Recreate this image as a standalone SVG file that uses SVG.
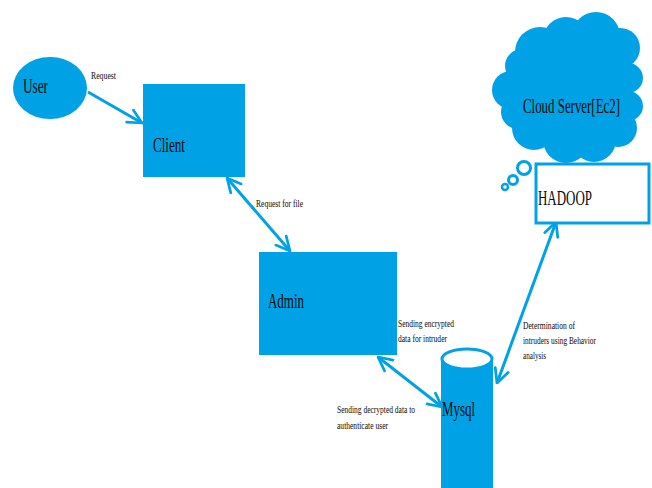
<svg xmlns="http://www.w3.org/2000/svg" width="652" height="488" viewBox="0 0 652 488">
<defs>
<style>
.fill{fill:#00A2E5;}
.lbl{font-family:"Liberation Serif","Times New Roman",serif;fill:#0a0a0a;}
.big{font-size:22px;}
.small{font-size:10px;}
.conn{stroke:#00A2E5;stroke-width:3;fill:none;}
</style>
<marker id="ah" viewBox="0 0 12 12" refX="11" refY="6" markerWidth="5.5" markerHeight="5.5" orient="auto-start-reverse" markerUnits="strokeWidth">
<path d="M1,1 L11,6 L1,11" fill="none" stroke="#00A2E5" stroke-width="2" stroke-linecap="round" stroke-linejoin="round"/>
</marker>
</defs>
<rect width="652" height="488" fill="#ffffff"/>

<g id="connectors">
<line class="conn" x1="88" y1="92" x2="142" y2="123" marker-end="url(#ah)"/>
<line class="conn" x1="227" y1="178" x2="290" y2="251" marker-start="url(#ah)" marker-end="url(#ah)"/>
<line class="conn" x1="378" y1="357" x2="442" y2="407" marker-start="url(#ah)" marker-end="url(#ah)"/>
<line class="conn" x1="497" y1="383" x2="556" y2="222" marker-start="url(#ah)" marker-end="url(#ah)"/>
<text class="lbl small" x="91" y="79" textLength="25" lengthAdjust="spacingAndGlyphs">Request</text>
<text class="lbl small" x="256" y="207" textLength="47" lengthAdjust="spacingAndGlyphs">Request for file</text>
<text class="lbl small" x="398" y="327" textLength="56" lengthAdjust="spacingAndGlyphs">Sending encrypted</text>
<text class="lbl small" x="398" y="342" textLength="49" lengthAdjust="spacingAndGlyphs">data for intruder</text>
<text class="lbl small" x="337" y="413" textLength="78" lengthAdjust="spacingAndGlyphs">Sending decrypted data to</text>
<text class="lbl small" x="337" y="429" textLength="51" lengthAdjust="spacingAndGlyphs">authenticate user</text>
<text class="lbl small" x="523" y="329" textLength="52" lengthAdjust="spacingAndGlyphs">Determination of</text>
<text class="lbl small" x="523" y="344" textLength="73" lengthAdjust="spacingAndGlyphs">intruders using Behavior</text>
<text class="lbl small" x="523" y="359" textLength="23" lengthAdjust="spacingAndGlyphs">analysis</text>
</g>

<g id="user">
<ellipse class="fill" cx="50" cy="88" rx="37" ry="31"/>
<text class="lbl big" x="23" y="93" textLength="25" lengthAdjust="spacingAndGlyphs">User</text>
</g>

<g id="client">
<rect class="fill" x="143" y="84" width="102" height="93"/>
<text class="lbl big" x="153" y="152" textLength="32" lengthAdjust="spacingAndGlyphs">Client</text>
</g>

<g id="admin">
<rect class="fill" x="259" y="252" width="138" height="103"/>
<text class="lbl big" x="268" y="308" textLength="36" lengthAdjust="spacingAndGlyphs">Admin</text>
</g>

<g id="mysql">
<rect class="fill" x="441" y="359" width="52" height="130"/>
<ellipse cx="467" cy="359" rx="25" ry="10" fill="#ffffff" stroke="#00A2E5" stroke-width="3"/>
<text class="lbl big" x="442" y="416" textLength="33" lengthAdjust="spacingAndGlyphs">Mysql</text>
</g>

<g id="cloud">
<g class="fill">
<circle cx="572" cy="90" r="55"/>
<circle cx="540" cy="52" r="25"/>
<circle cx="566" cy="40" r="23"/>
<circle cx="596" cy="36" r="24"/>
<circle cx="620" cy="48" r="20"/>
<circle cx="628" cy="78" r="15"/>
<circle cx="628" cy="106" r="15"/>
<circle cx="618" cy="128" r="19"/>
<circle cx="594" cy="140" r="22"/>
<circle cx="566" cy="140" r="23"/>
<circle cx="534" cy="128" r="22"/>
<circle cx="511" cy="90" r="19"/>
<circle cx="522" cy="66" r="17"/>
<circle cx="518" cy="112" r="17"/>
</g>
<circle cx="524" cy="168" r="6.5" fill="#ffffff" stroke="#00A2E5" stroke-width="3"/>
<circle cx="513" cy="180" r="4.5" fill="#ffffff" stroke="#00A2E5" stroke-width="3"/>
<circle cx="505" cy="187" r="3" fill="#ffffff" stroke="#00A2E5" stroke-width="2.5"/>
<text class="lbl big" x="523" y="113" textLength="97" lengthAdjust="spacingAndGlyphs">Cloud Server[Ec2]</text>
</g>

<g id="hadoop">
<rect x="536" y="164" width="113" height="59" fill="#ffffff" stroke="#00A2E5" stroke-width="3"/>
<text class="lbl big" x="538" y="205" textLength="54" lengthAdjust="spacingAndGlyphs">HADOOP</text>
</g>
</svg>
